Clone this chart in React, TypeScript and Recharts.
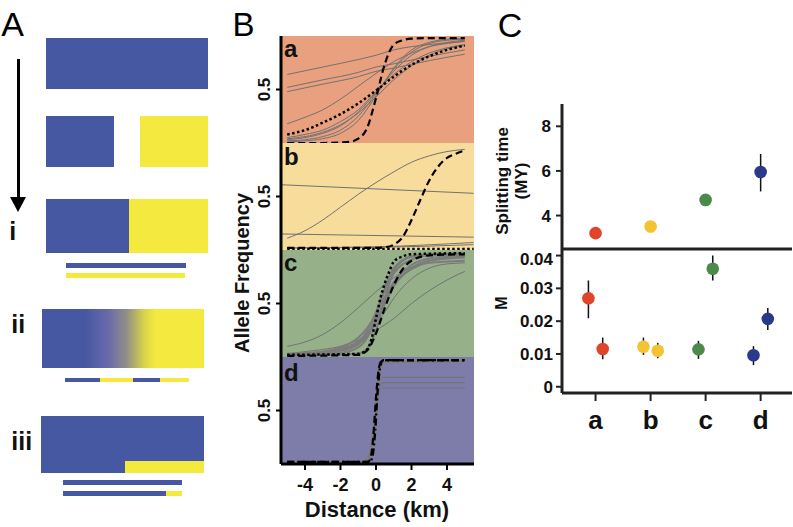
import React from 'react';
import { LineChart, Line, XAxis, YAxis, ScatterChart, Scatter, ErrorBar } from 'recharts';

const FONT = '"Liberation Sans", Arial, Helvetica, sans-serif';
type Pt = [number, number];

// ---------- Panel B: cline data (distance km, allele frequency) ----------
const aDashed: Pt[] = [[-5, 0], [-3, 0], [-2, 0.005], [-1.5, 0.01], [-1, 0.04], [-0.5, 0.14], [0, 0.42], [0.5, 0.74], [1, 0.92], [1.5, 0.96], [2, 0.975], [3, 0.98], [5, 0.98]];
const aDotted: Pt[] = [[-5, 0.08], [-4, 0.12], [-3, 0.19], [-2, 0.27], [-1, 0.37], [0, 0.49], [1, 0.62], [2, 0.73], [3, 0.81], [4, 0.87], [5, 0.91]];
const aGray: Pt[][] = [
  [[-5, 0.64], [-3, 0.71], [-1, 0.78], [0, 0.82], [1, 0.87], [3, 0.92], [5, 0.95]],
  [[-5, 0.52], [-3, 0.59], [-1, 0.66], [0, 0.71], [1, 0.74], [3, 0.81], [5, 0.87]],
  [[-5, 0.48], [-3, 0.55], [-1, 0.62], [0, 0.67], [1, 0.7], [3, 0.77], [5, 0.83]],
  [[-5, 0.18], [-4, 0.24], [-3, 0.31], [-2, 0.41], [-1, 0.53], [0, 0.65], [1, 0.76], [2, 0.84], [3, 0.9], [4, 0.93], [5, 0.95]],
  [[-5, 0.03], [-4, 0.05], [-3, 0.09], [-2, 0.16], [-1, 0.29], [0, 0.47], [1, 0.67], [2, 0.82], [3, 0.9], [4, 0.94], [5, 0.96]],
  [[-5, 0.02], [-4, 0.03], [-3, 0.06], [-2, 0.12], [-1, 0.25], [0, 0.46], [1, 0.69], [2, 0.85], [3, 0.93], [4, 0.96], [5, 0.97]],
  [[-5, 0.04], [-4, 0.06], [-3, 0.1], [-2, 0.17], [-1, 0.28], [0, 0.43], [1, 0.59], [2, 0.72], [3, 0.82], [4, 0.88], [5, 0.91]],
  [[-5, 0.05], [-4, 0.08], [-3, 0.12], [-2, 0.2], [-1, 0.31], [0, 0.48], [1, 0.64], [2, 0.76], [3, 0.84], [4, 0.89], [5, 0.92]],
  [[-5, 0.01], [-4, 0.02], [-3, 0.04], [-2, 0.09], [-1, 0.21], [0, 0.44], [1, 0.7], [2, 0.87], [3, 0.94], [4, 0.97], [5, 0.98]],
];

const bDashed: Pt[] = [[-5, 0.02], [0, 0.02], [0.5, 0.025], [1, 0.05], [1.5, 0.12], [2, 0.28], [2.5, 0.47], [3, 0.65], [3.5, 0.78], [4, 0.86], [4.5, 0.9], [5, 0.93]];
const bDotted: Pt[] = [[-5, 0.01], [5.5, 0.01]];
const bGray: Pt[][] = [
  [[-5, 0.11], [-4, 0.18], [-3, 0.28], [-2, 0.4], [-1, 0.52], [0, 0.63], [1, 0.73], [2, 0.82], [3, 0.88], [4, 0.92], [5, 0.94]],
  [[-5.35, 0.61], [5.5, 0.53]],
  [[-5.35, 0.15], [5.5, 0.12]],
  [[-5, 0.02], [0, 0.03], [5.5, 0.07]],
  [[-5, 0.02], [0, 0.025], [5.5, 0.05]],
];

const cDotted: Pt[] = [[-5, 0.02], [-1, 0.03], [-0.5, 0.07], [-0.25, 0.17], [0, 0.36], [0.25, 0.55], [0.5, 0.69], [0.75, 0.8], [1, 0.89], [1.5, 0.94], [2, 0.96], [5, 0.97]];
const cDashed: Pt[] = [[-5, 0.01], [-1, 0.02], [-0.5, 0.06], [0, 0.22], [0.5, 0.46], [1, 0.67], [1.5, 0.82], [2, 0.9], [3, 0.95], [5, 0.96]];
const cGray: Pt[][] = [
  [[-5, 0.1], [-4, 0.14], [-3, 0.21], [-2, 0.32], [-1, 0.46], [0, 0.61], [1, 0.74], [2, 0.84], [3, 0.9], [4, 0.93], [5, 0.94]],
  [[-5, 0.03], [-4, 0.05], [-3, 0.07], [-2, 0.1], [-1, 0.16], [0, 0.25], [1, 0.36], [2, 0.5], [3, 0.62], [4, 0.72], [5, 0.8]],
  [[-5, 0.02], [-3, 0.05], [-2, 0.08], [-1, 0.15], [0, 0.3], [0.5, 0.42], [1, 0.55], [2, 0.73], [3, 0.83], [4, 0.87], [5, 0.88]],
  [[-5, 0.02], [-3, 0.05], [-2, 0.09], [-1, 0.18], [-0.5, 0.27], [0, 0.4], [0.5, 0.56], [1, 0.7], [2, 0.86], [3, 0.92], [5, 0.95]],
  [[-5, 0.02], [-3, 0.04], [-2, 0.07], [-1, 0.14], [-0.5, 0.24], [0, 0.42], [0.5, 0.62], [1, 0.78], [2, 0.91], [3, 0.95], [5, 0.96]],
  [[-5, 0.02], [-2, 0.04], [-1, 0.09], [-0.5, 0.18], [0, 0.38], [0.5, 0.64], [1, 0.83], [2, 0.94], [3, 0.96], [5, 0.97]],
  [[-5, 0.03], [-2, 0.06], [-1, 0.12], [-0.5, 0.2], [0, 0.33], [0.5, 0.5], [1, 0.66], [2, 0.83], [3, 0.9], [5, 0.93]],
  [[-5, 0.01], [-1, 0.03], [-0.5, 0.08], [0, 0.25], [0.5, 0.55], [1, 0.8], [1.5, 0.9], [2, 0.94], [5, 0.96]],
  [[-5, 0.02], [-2, 0.06], [-1, 0.12], [0, 0.35], [0.5, 0.52], [1, 0.68], [2, 0.82], [3, 0.88], [5, 0.9]],
];

const dDashed: Pt[] = [[-5, 0.02], [-0.45, 0.02], [-0.3, 0.06], [-0.15, 0.26], [0, 0.62], [0.15, 0.88], [0.3, 0.96], [0.6, 0.97], [5, 0.97]];
const dDotted: Pt[] = [[-5, 0.02], [-0.35, 0.02], [-0.2, 0.07], [-0.05, 0.3], [0.1, 0.7], [0.25, 0.92], [0.4, 0.97], [5, 0.97]];
const dGray: Pt[][] = [
  [[-5, 0.01], [-1, 0.01], [-0.5, 0.04], [-0.25, 0.15], [0, 0.5], [0.2, 0.78], [0.4, 0.81], [5, 0.81]],
  [[-5, 0.01], [-1, 0.01], [-0.5, 0.04], [-0.25, 0.15], [0, 0.48], [0.2, 0.73], [0.4, 0.76], [5, 0.76]],
  [[-5, 0.01], [-1, 0.01], [-0.5, 0.04], [-0.25, 0.15], [0, 0.46], [0.2, 0.69], [0.4, 0.71], [5, 0.71]],
  [[-5, 0.01], [-1, 0.01], [-0.5, 0.05], [-0.25, 0.18], [0, 0.55], [0.25, 0.9], [0.5, 0.95], [5, 0.96]],
];

const bTicksX = [-4, -2, 0, 2, 4];
const bTicksY = [0.5];

// ---------- Panel C data ----------
const categories = ['a', 'b', 'c', 'd'];
const catColors = ['#E0452C', '#F3C333', '#4B8A4A', '#2B3A88'];
const splitX = [1, 2, 3, 4];
const splitTime = [3.21, 3.51, 4.7, 5.95];
const splitErr: Pt[] = [[0, 0], [0, 0], [0, 0], [0.87, 0.81]];
const mX = [0.87, 1.13, 1.87, 2.13, 2.87, 3.13, 3.87, 4.13];
const mCat = [0, 0, 1, 1, 2, 2, 3, 3];
const mVal = [0.027, 0.0115, 0.0122, 0.011, 0.0114, 0.036, 0.0096, 0.0207];
const mErr: Pt[] = [[0.0061, 0.0054], [0.0031, 0.0035], [0.0025, 0.0028], [0.0023, 0.0024], [0.0029, 0.0026], [0.0036, 0.004], [0.003, 0.0028], [0.0034, 0.0033]];
const splitTicks = [4, 6, 8];
const mTicks = [0, 0.01, 0.02, 0.03, 0.04];

const splitRows = splitX.map((x, i) => ({ x, y: splitTime[i], err: splitErr[i], ci: i }));
const mRows = mX.map((x, i) => ({ x, y: mVal[i], err: mErr[i], ci: mCat[i] }));

// ---------- styles ----------
const BLUE = '#4758A2';
const YELLOW = '#F3E93F';
const B_DOMAIN: [number, number] = [-5.35, 5.52];
const B_LEFT = 241;
const B_YW = 40;
const B_W = 193;
const B_H = 107;

const toRows = (pts: Pt[]) => pts.map(([x, y]) => ({ x, y }));

const RotTick = (props: any) => {
  const { x, y, payload } = props;
  return (
    <text transform={`translate(${x - 11},${y}) rotate(-90)`} textAnchor="middle" dy={6.5}
      fontSize={17} fontWeight="bold" fill="#111" fontFamily={FONT}>{payload.value}</text>
  );
};

const dot = (p: any) => (
  <circle cx={p.cx} cy={p.cy} r={6.3} fill={catColors[p.payload.ci]} />
);

type LineSpec = { pts: Pt[]; stroke: string; width: number; dash?: string };

const PanelB = ({ top, bg, lines, showX }: { top: number; bg: string; lines: LineSpec[]; showX?: boolean }) => {
  const h = showX ? B_H + 38 : B_H;
  return (
    <>
      <div style={{ position: 'absolute', left: B_LEFT + B_YW, top, width: B_W, height: B_H, background: bg }} />
      <div style={{ position: 'absolute', left: B_LEFT, top, width: B_YW + B_W, height: h }}>
        <LineChart width={B_YW + B_W} height={h} margin={{ top: 0, right: 0, bottom: 0, left: 0 }}>
          <XAxis type="number" dataKey="x" domain={B_DOMAIN} allowDataOverflow hide={!showX} height={38}
            ticks={bTicksX} interval={0} tickSize={6} tickMargin={8}
            axisLine={{ stroke: '#000', strokeWidth: 3 }} tickLine={{ stroke: '#000', strokeWidth: 2 }}
            tick={{ fontSize: 18, fontWeight: 'bold', fill: '#111', fontFamily: FONT }} />
          <YAxis type="number" domain={[0, 1]} ticks={bTicksY} width={B_YW} allowDataOverflow
            axisLine={{ stroke: '#000', strokeWidth: 3 }} tickLine={{ stroke: '#000', strokeWidth: 2 }}
            tickSize={5} tickMargin={2} tick={<RotTick />} />
          {lines.map((l, i) => (
            <Line key={i} data={toRows(l.pts)} dataKey="y" type="monotone" stroke={l.stroke}
              strokeWidth={l.width} strokeDasharray={l.dash} dot={false} activeDot={false}
              isAnimationActive={false} />
          ))}
        </LineChart>
      </div>
    </>
  );
};

const gray = (pts: Pt[]): LineSpec => ({ pts, stroke: '#727272', width: 1 });
const grayThick = (pts: Pt[]): LineSpec => ({ pts, stroke: '#7c7c7c', width: 2 });
const dashed = (pts: Pt[]): LineSpec => ({ pts, stroke: '#000', width: 2.2, dash: '7 4' });
const dotted = (pts: Pt[]): LineSpec => ({ pts, stroke: '#000', width: 2.5, dash: '2.5 2.5' });
const dashDot = (pts: Pt[]): LineSpec => ({ pts, stroke: '#000', width: 2.4, dash: '7 3 2 3' });

const Box = ({ x, y, w, h, bg }: { x: number; y: number; w: number; h: number; bg: string }) => (
  <div style={{ position: 'absolute', left: x, top: y, width: w, height: h, background: bg }} />
);

const tickStyleC = { fontSize: 17, fontWeight: 'bold', fill: '#111', fontFamily: FONT } as any;

export default function App() {
  return (
    <div style={{ position: 'absolute', left: 0, top: 0, width: 793, height: 527, background: '#fff', overflow: 'hidden', fontFamily: FONT }}>
      {/* Panel A schematic */}
      <Box x={46} y={37.7} w={161.7} h={51} bg={BLUE} />
      <Box x={46} y={116} w={68} h={50.7} bg={BLUE} />
      <Box x={139.7} y={116} w={68} h={50.7} bg={YELLOW} />
      <Box x={46} y={199.3} w={83} h={54} bg={BLUE} />
      <Box x={129} y={199.3} w={78.7} h={54} bg={YELLOW} />
      <Box x={66.3} y={263} w={119.4} h={5.3} bg={BLUE} />
      <Box x={66.3} y={272.7} w={119} h={5.6} bg={YELLOW} />
      <div style={{ position: 'absolute', left: 42.3, top: 308.7, width: 161.7, height: 59,
        background: `linear-gradient(to right, ${BLUE} 0%, ${BLUE} 27%, #6a6aab 41%, #8f8e86 52%, #d8d34a 63%, ${YELLOW} 70%, ${YELLOW} 100%)` }} />
      <Box x={65} y={377.7} w={35} h={4.6} bg={BLUE} />
      <Box x={100} y={377.7} w={32.7} h={4.6} bg={YELLOW} />
      <Box x={132.7} y={377.7} w={27.3} h={4.6} bg={BLUE} />
      <Box x={160} y={377.7} w={28.7} h={4.6} bg={YELLOW} />
      <Box x={41.3} y={416} w={163} h={56.7} bg={BLUE} />
      <Box x={125} y={461.3} w={79.3} h={11.4} bg={YELLOW} />
      <Box x={63.3} y={480} w={118.7} h={5} bg={BLUE} />
      <Box x={63.3} y={490.7} w={102.4} h={5} bg={BLUE} />
      <Box x={165.7} y={490.7} w={16.3} h={5} bg={YELLOW} />
      <Box x={17} y={59} w={2.6} h={140} bg="#000" />
      <div style={{ position: 'absolute', left: 10.3, top: 197, width: 0, height: 0,
        borderLeft: '8px solid transparent', borderRight: '8px solid transparent', borderTop: '15px solid #000' }} />

      {/* Panel B */}
      <PanelB top={36} bg="#E8A07F" lines={[...aGray.map(gray), dotted(aDotted), dashed(aDashed)]} />
      <PanelB top={143} bg="#F8DC9C" lines={[...bGray.map(gray), dotted(bDotted), dashed(bDashed)]} />
      <PanelB top={249.5} bg="#96B08A"
        lines={[...cGray.slice(0, 3).map(gray), ...cGray.slice(3).map(grayThick), dashed(cDashed), dotted(cDotted)]} />
      <PanelB top={356.5} bg="#7E7CA8" showX
        lines={[...dGray.slice(0, 3).map(gray), grayThick(dGray[3]), dashed(dDashed), dashDot(dDotted)]} />

      {/* Panel C top: splitting time */}
      <div style={{ position: 'absolute', left: 502, top: 104, width: 290, height: 147 }}>
        <ScatterChart width={290} height={147} margin={{ top: 0, right: 0, bottom: 0, left: 0 }}>
          <XAxis type="number" dataKey="x" domain={[0.39, 4.57]} height={2} tick={false} tickLine={false}
            axisLine={{ stroke: '#222', strokeWidth: 3 }} />
          <YAxis type="number" dataKey="y" domain={[2.5, 9]} ticks={splitTicks} width={60} tickSize={6} tickMargin={5}
            axisLine={{ stroke: '#222', strokeWidth: 3 }} tickLine={{ stroke: '#222', strokeWidth: 2 }} tick={tickStyleC} />
          <Scatter data={splitRows} shape={dot} isAnimationActive={false}>
            <ErrorBar dataKey="err" direction="y" width={0} stroke="#111" strokeWidth={1.5} />
          </Scatter>
        </ScatterChart>
      </div>

      {/* Panel C bottom: M */}
      <div style={{ position: 'absolute', left: 502, top: 249, width: 290, height: 210 }}>
        <ScatterChart width={290} height={210} margin={{ top: 0, right: 0, bottom: 0, left: 0 }}>
          <XAxis type="number" dataKey="x" domain={[0.39, 4.57]} ticks={splitX} interval={0} height={66}
            tickSize={8} tickMargin={10} tickFormatter={(v: number) => categories[v - 1]}
            axisLine={{ stroke: '#222', strokeWidth: 3 }} tickLine={{ stroke: '#222', strokeWidth: 2 }}
            tick={{ fontSize: 26, fontWeight: 'bold', fill: '#111', fontFamily: FONT }} />
          <YAxis type="number" dataKey="y" domain={[-0.0019, 0.042]} ticks={mTicks} width={60} tickSize={6} tickMargin={3}
            tickFormatter={(v: number) => (v === 0 ? '0' : v.toFixed(2))}
            axisLine={{ stroke: '#222', strokeWidth: 3 }} tickLine={{ stroke: '#222', strokeWidth: 2 }} tick={tickStyleC} />
          <Scatter data={mRows} shape={dot} isAnimationActive={false}>
            <ErrorBar dataKey="err" direction="y" width={0} stroke="#111" strokeWidth={1.5} />
          </Scatter>
        </ScatterChart>
      </div>

      {/* Text overlay */}
      <svg width={793} height={527} style={{ position: 'absolute', left: 0, top: 0, pointerEvents: 'none' }} fontFamily={FONT}>
        <text x={12.5} y={36} textAnchor="middle" fontSize={34} fill="#000">A</text>
        <text x={243.5} y={36} textAnchor="middle" fontSize={33} fill="#000">B</text>
        <text x={510} y={37} textAnchor="middle" fontSize={34} fill="#000">C</text>
        <text x={12.7} y={240} textAnchor="middle" fontSize={25} fontWeight="bold" fill="#111">i</text>
        <text x={18.3} y={333} textAnchor="middle" fontSize={25} fontWeight="bold" fill="#111">ii</text>
        <text x={21.7} y={450} textAnchor="middle" fontSize={25} fontWeight="bold" fill="#111">iii</text>
        <text x={284} y={57} fontSize={24} fontWeight="bold" fill="#111">a</text>
        <text x={284} y={165} fontSize={24} fontWeight="bold" fill="#111">b</text>
        <text x={284} y={271} fontSize={24} fontWeight="bold" fill="#111">c</text>
        <text x={284} y={381} fontSize={24} fontWeight="bold" fill="#111">d</text>
        <text transform="translate(242,273) rotate(-90)" textAnchor="middle" dy="0.36em" fontSize={20} fontWeight="bold" fill="#111">Allele Frequency</text>
        <text x={377} y={517} textAnchor="middle" fontSize={22} fontWeight="bold" fill="#111">Distance (km)</text>
        <text transform="translate(502,181) rotate(-90)" textAnchor="middle" dy="0.36em" fontSize={17} fontWeight="bold" fill="#111">Splitting time</text>
        <text transform="translate(521,181) rotate(-90)" textAnchor="middle" dy="0.36em" fontSize={17} fontWeight="bold" fill="#111">(MY)</text>
        <text transform="translate(501,303) rotate(-90)" textAnchor="middle" dy="0.36em" fontSize={16} fontWeight="bold" fill="#111">M</text>
      </svg>
    </div>
  );
}
